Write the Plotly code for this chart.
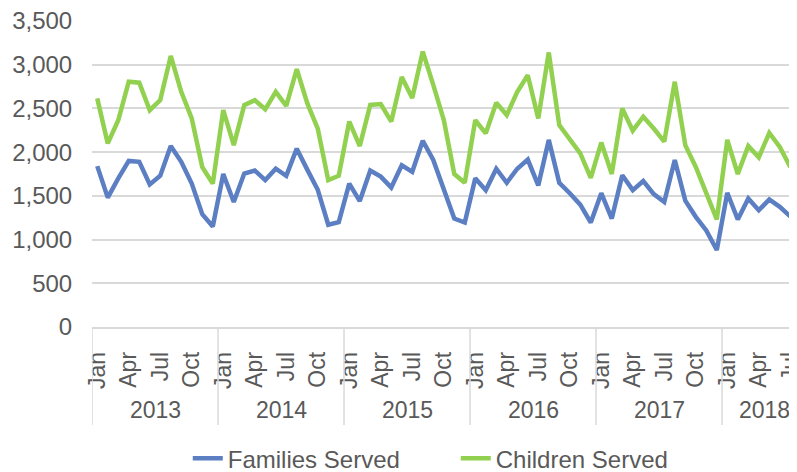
import plotly.graph_objs as go

years = [2013, 2014, 2015, 2016, 2017, 2018]
month_names = ['Jan', 'Feb', 'Mar', 'Apr', 'May', 'Jun',
               'Jul', 'Aug', 'Sep', 'Oct', 'Nov', 'Dec']
last_year_months = 8  # data runs Jan 2013 - Aug 2018

families = [1840, 1480, 1700, 1900, 1890, 1630, 1730, 2070, 1890, 1640, 1290, 1150,
            1750, 1430, 1755, 1790, 1680, 1810, 1730, 2040, 1800, 1570, 1170, 1200,
            1640, 1440, 1790, 1720, 1595, 1850, 1775, 2130, 1910, 1585, 1240, 1195,
            1700, 1565, 1810, 1650, 1810, 1915, 1620, 2140, 1650, 1530, 1400, 1195,
            1530, 1240, 1735, 1565, 1670, 1520, 1430, 1910, 1445, 1260, 1105, 880,
            1535, 1230, 1470, 1335, 1460, 1375, 1265, 1600]

children = [2615, 2100, 2365, 2805, 2795, 2480, 2595, 3100, 2690, 2385, 1830, 1640,
            2480, 2080, 2538, 2595, 2490, 2690, 2530, 2950, 2560, 2270, 1680, 1730,
            2350, 2070, 2540, 2550, 2350, 2860, 2620, 3150, 2770, 2370, 1750, 1650,
            2365, 2215, 2565, 2425, 2690, 2880, 2385, 3140, 2310, 2140, 1985, 1705,
            2110, 1750, 2500, 2245, 2405, 2270, 2120, 2805, 2080, 1830, 1525, 1230,
            2140, 1750, 2070, 1940, 2220, 2060, 1830, 2370]

shown_months = ['Jan', 'Apr', 'Jul', 'Oct']

TEXT = '#595959'
GRID = '#d9d9d9'
FONT = 'Liberation Sans, Arial, sans-serif'

# month index along the axis
months = []
for y in years:
    n = last_year_months if y == years[-1] else 12
    for m in range(n):
        months.append((y, month_names[m]))
x = list(range(len(months)))

tickvals = [i for i, (y, m) in enumerate(months) if m in shown_months]
ticktext = [months[i][1] for i in tickvals]

fig = go.Figure()
fig.add_trace(go.Scatter(x=x, y=families, mode='lines', name='Families Served',
                         line=dict(color='#5b7fc2', width=4.5)))
fig.add_trace(go.Scatter(x=x, y=children, mode='lines', name='Children Served',
                         line=dict(color='#92d050', width=4.5)))

# year group labels and dividers
start = 0
for y in years:
    n = sum(1 for yy, _ in months if yy == y)
    fig.add_annotation(x=start + (n - 1) / 2, y=-0.272, xref='x', yref='paper',
                       text=str(y), showarrow=False, yanchor='middle',
                       font=dict(size=23, color=TEXT, family=FONT))
    fig.add_shape(type='line', xref='x', yref='paper',
                  x0=start - 0.5, x1=start - 0.5, y0=0, y1=-0.32,
                  line=dict(color=GRID, width=1.5))
    start += n

# the page body adds an 8px offset, so the figure is 8px smaller each way
fig.update_layout(
    width=789, height=464,
    margin=dict(l=84, r=0, t=13, b=145, autoexpand=False),
    plot_bgcolor='white', paper_bgcolor='white',
    font=dict(family=FONT, size=23, color=TEXT),
    legend=dict(orientation='h', x=0.516, xanchor='center', y=-0.43,
                yanchor='middle', font=dict(size=24, color=TEXT),
                entrywidth=223, tracegroupgap=0),
    showlegend=True,
)
fig.update_xaxes(range=[-0.5, 66.64], tickvals=tickvals, ticktext=ticktext,
                 tickangle=-90, showgrid=False, showline=True, linecolor=GRID,
                 linewidth=1.5, ticks='outside', ticklen=14,
                 tickcolor='rgba(0,0,0,0)', zeroline=False, automargin=False,
                 ticklabeloverflow='allow',
                 tickfont=dict(size=23, color=TEXT))
fig.update_yaxes(range=[0, 3500], dtick=500, tickformat=',', showgrid=True,
                 gridcolor=GRID, gridwidth=1.5, zeroline=False, showline=False,
                 ticks='outside', ticklen=14, tickcolor='rgba(0,0,0,0)',
                 automargin=False, ticklabeloverflow='allow',
                 tickfont=dict(size=24, color=TEXT))

fig.write_html("out.html")
